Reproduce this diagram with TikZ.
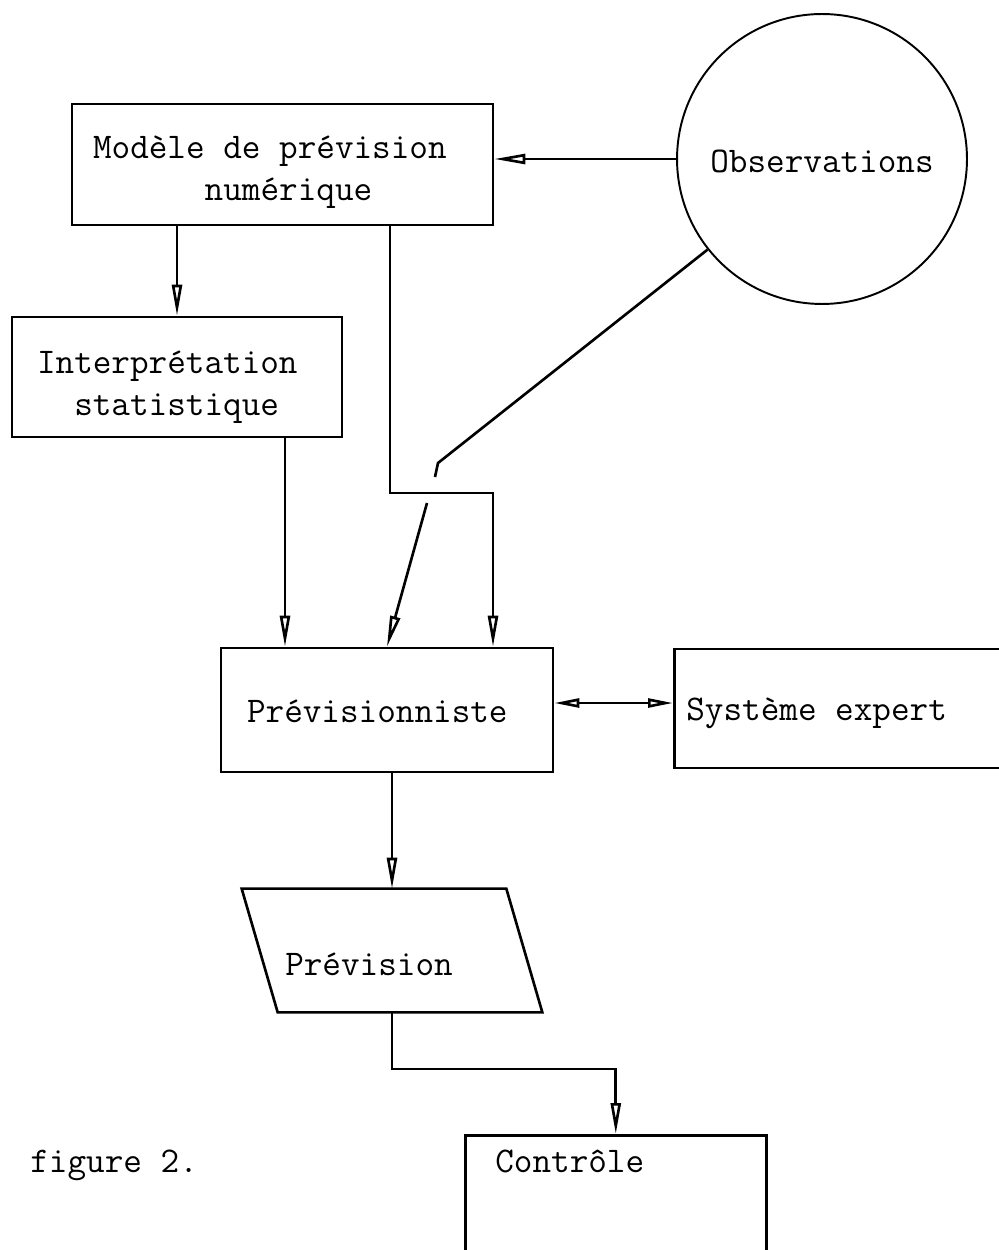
\documentclass[tikz,border=0pt]{standalone}
\usepackage{fontspec}
\usetikzlibrary{arrows.meta,calc}
\newcommand{\msp}{\hphantom{x}}
\begin{document}
\begin{tikzpicture}[x=0.02cm,y=-0.02cm,
  every node/.style={font=\ttfamily\fontsize{20.57}{24}\selectfont},
  box/.style={draw, line width=1.5pt, rectangle, align=left, inner ysep=0pt},
  arr/.style={line width=1.5pt, -{Triangle[open,length=0.62cm,width=0.2cm]}},
  con/.style={line width=1.5pt},
  dbl/.style={line width=1.5pt, {Triangle[open,length=0.5cm,width=0.18cm]}-{Triangle[open,length=0.5cm,width=0.18cm]}}]
\useasboundingbox (0,0) rectangle (999,1250);
\clip (0,0) rectangle (999,1250);
% nodes
\node[box, minimum width=8.42cm, minimum height=2.42cm, text width=7.58cm, inner xsep=0.42cm, text height=0.6cm, text depth=0.86cm] (M) at (282.5,164.5) {Modèle\msp{}de\msp{}prévision\\\hphantom{xxxxxx}numérique};
\node[box, minimum width=6.6cm, minimum height=2.4cm, text width=5.6cm, inner xsep=0.5cm, text height=0.6cm, text depth=0.76cm] (I) at (177,377) {Interprétation\\\hphantom{xx}statistique};
\node[draw, circle, line width=1.1pt, minimum size=5.8cm, inner sep=0pt, text height=0.62cm, text depth=0.06cm] (O) at (822,159) {Observations};
\node[box, minimum width=6.64cm, minimum height=2.48cm, text width=5.6cm, inner xsep=0.52cm, text height=0.55cm, text depth=0.07cm] (P) at (387,710) {Prévisionniste};
\node[box, anchor=west, minimum height=2.38cm, text width=6.66cm, inner xsep=0.24cm, text height=0.53cm, text depth=0.07cm] (S) at (673,708.5) {Système\msp{}expert};
\node[minimum width=5.28cm, minimum height=2.46cm, inner sep=0pt, text height=1.0cm, text depth=0.02cm] (pv) at (392,950.5) {Prévision\kern0.92cm};
\draw[con] ([xshift=-0.36cm]pv.north west) -- ([xshift=-0.36cm]pv.north east) -- ([xshift=0.36cm]pv.south east) -- ([xshift=0.36cm]pv.south west) -- cycle;
\node[box, anchor=north west, text width=4.82cm, inner xsep=0.6cm, inner ysep=0.35cm, text height=0.4cm, text depth=3cm] (C) at (464,1134) {Contrôle};
\node[anchor=base west, inner sep=0pt] (fig) at (30,1172) {figure\msp{}2.};
% connectors
\draw[arr] (O.west) -- (O.west -| M.east);
\draw[arr] (I.north |- M.south) -- (I.north);
\coordinate (j1) at (390,493);
\coordinate (j2) at (493,493);
\draw[arr] (M.south -| j1) -- (j1) -- (j2) -- (j2 |- P.north);
\draw[arr] ([xshift=2.16cm]I.south) -- ([xshift=2.16cm]I.south |- P.north);
\coordinate (o1) at (438,463);
\coordinate (o2) at (435,477);
\coordinate (o3) at (427,503);
\draw[con] (o2) -- (o1) -- (O);
\draw[arr] (o3) -- (P.north);
\draw[dbl] ([yshift=0.14cm]P.east) -- ([yshift=0.14cm]P.east -| S.west);
\draw[arr] (P.south -| pv.north) -- (pv.north);
\coordinate (k1) at (392,1069);
\draw[arr] (pv.south) -- (k1) -| (C.north);
\end{tikzpicture}
\end{document}
